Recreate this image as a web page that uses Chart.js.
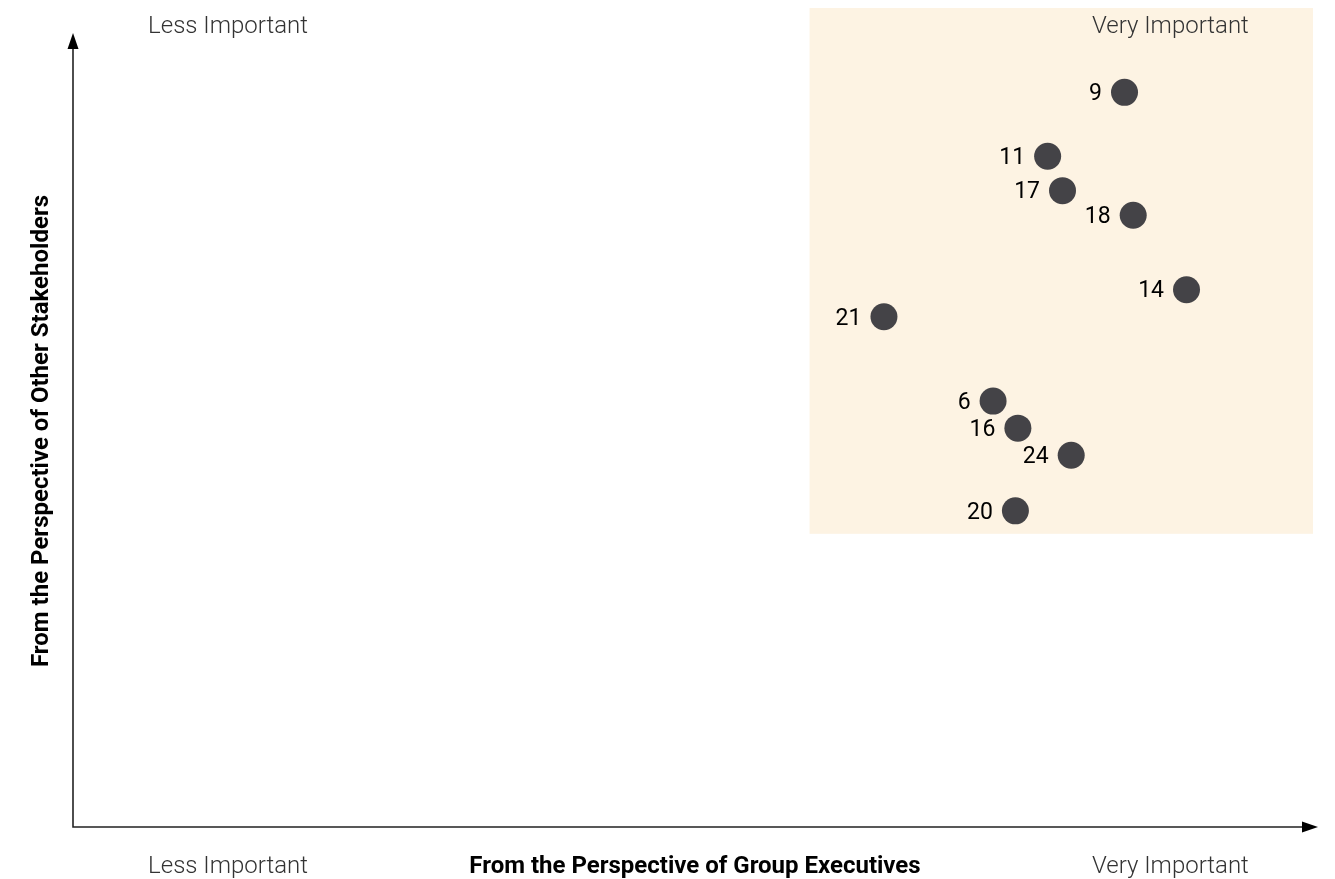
<!DOCTYPE html>
<html>
<head>
<meta charset="utf-8">
<title>Materiality Matrix</title>
<script src="https://cdn.jsdelivr.net/npm/chart.js@4.4.1/dist/chart.umd.min.js"></script>
<style>
  html, body { margin: 0; padding: 0; background: #ffffff; }
  #wrap { width: 1335px; height: 879px; position: relative; }
  canvas { display: block; }
</style>
</head>
<body>
<div id="wrap"><canvas id="matrix" width="1335" height="879"></canvas></div>
<script>
// Issue numbers and their importance scores (0–100) from each perspective
const issueIds = ['9', '11', '17', '18', '14', '21', '6', '16', '24', '20'];
const executiveScores = [84.8, 78.6, 79.8, 85.5, 89.8, 65.4, 74.2, 76.2, 80.5, 76.0];
const stakeholderScores = [89.7, 81.9, 77.7, 74.7, 65.6, 62.3, 52.0, 48.7, 45.4, 38.6];

// Scale range and the highlighted "material" zone (lower bounds on each axis)
const scoreRange = [0, 100];
const materialZoneFrom = [59.4, 35.8];

// Axis texts
const endLabels = ['Less Important', 'Very Important'];
const xAxisTitle = 'From the Perspective of Group Executives';
const yAxisTitle = 'From the Perspective of Other Stakeholders';

const points = issueIds.map((id, i) => ({ x: executiveScores[i], y: stakeholderScores[i], id }));

const POINT_COLOR = '#444347';
const ZONE_COLOR = '#fdf3e3';
const AXIS_COLOR = '#222222';

const matrixDecor = {
  id: 'matrixDecor',
  beforeDatasetsDraw(chart) {
    const { ctx, scales: { x, y } } = chart;
    // highlighted zone
    const zx0 = x.getPixelForValue(materialZoneFrom[0]);
    const zx1 = x.getPixelForValue(scoreRange[1]);
    const zy0 = y.getPixelForValue(scoreRange[1]);
    const zy1 = y.getPixelForValue(materialZoneFrom[1]);
    ctx.save();
    ctx.fillStyle = ZONE_COLOR;
    ctx.fillRect(zx0, zy0, zx1 - zx0, zy1 - zy0);

    // axes with arrowheads
    const ox = x.getPixelForValue(scoreRange[0]);
    const oy = y.getPixelForValue(scoreRange[0]);
    const xTip = x.getPixelForValue(scoreRange[1]) + 5;
    const yTip = y.getPixelForValue(scoreRange[1]) + 25;
    const aLen = 16, aHalf = 5.5;
    ctx.strokeStyle = AXIS_COLOR;
    ctx.fillStyle = '#000';
    ctx.lineWidth = 1.6;
    ctx.beginPath();
    ctx.moveTo(ox, yTip + aLen - 1);
    ctx.lineTo(ox, oy);
    ctx.lineTo(xTip - aLen + 1, oy);
    ctx.stroke();
    ctx.beginPath();
    ctx.moveTo(xTip, oy);
    ctx.lineTo(xTip - aLen, oy - aHalf);
    ctx.lineTo(xTip - aLen, oy + aHalf);
    ctx.closePath();
    ctx.fill();
    ctx.beginPath();
    ctx.moveTo(ox, yTip);
    ctx.lineTo(ox - aHalf, yTip + aLen);
    ctx.lineTo(ox + aHalf, yTip + aLen);
    ctx.closePath();
    ctx.fill();

    // end labels
    const lessX = x.getPixelForValue(12.5);
    const veryX = x.getPixelForValue(88.5);
    ctx.font = '300 24px Roboto';
    ctx.fillStyle = '#333333';
    ctx.textAlign = 'center';
    ctx.textBaseline = 'middle';
    ctx.fillText(endLabels[0], lessX, 27);
    ctx.fillText(endLabels[1], veryX, 27);
    ctx.fillText(endLabels[0], lessX, oy + 40);
    ctx.fillText(endLabels[1], veryX, oy + 40);

    // axis titles
    ctx.font = 'bold 24px Roboto';
    ctx.fillStyle = '#000000';
    ctx.fillText(xAxisTitle, 695, oy + 40);
    ctx.save();
    ctx.translate(42, 431);
    ctx.rotate(-Math.PI / 2);
    ctx.fillText(yAxisTitle, 0, 0);
    ctx.restore();
    ctx.restore();
  },
  afterDatasetsDraw(chart) {
    const { ctx } = chart;
    const meta = chart.getDatasetMeta(0);
    ctx.save();
    ctx.font = '23px Roboto';
    ctx.fillStyle = '#000000';
    ctx.textAlign = 'right';
    ctx.textBaseline = 'middle';
    meta.data.forEach((el, i) => {
      const r = el.options.radius;
      ctx.fillText(points[i].id, el.x - r - 9, el.y + 2);
    });
    ctx.restore();
  }
};

new Chart(document.getElementById('matrix'), {
  type: 'scatter',
  data: {
    datasets: [{
      data: points,
      backgroundColor: POINT_COLOR,
      borderColor: POINT_COLOR,
      borderWidth: 0,
      pointRadius: 13.5,
      pointHoverRadius: 13.5,
      clip: false
    }]
  },
  options: {
    responsive: false,
    devicePixelRatio: 1,
    animation: false,
    events: [],
    layout: { autoPadding: false, padding: { left: 73, right: 22, top: 8, bottom: 52 } },
    plugins: { legend: { display: false }, tooltip: { enabled: false } },
    scales: {
      x: { type: 'linear', min: scoreRange[0], max: scoreRange[1], display: false },
      y: { type: 'linear', min: scoreRange[0], max: scoreRange[1], display: false }
    }
  },
  plugins: [matrixDecor]
});
</script>
</body>
</html>
